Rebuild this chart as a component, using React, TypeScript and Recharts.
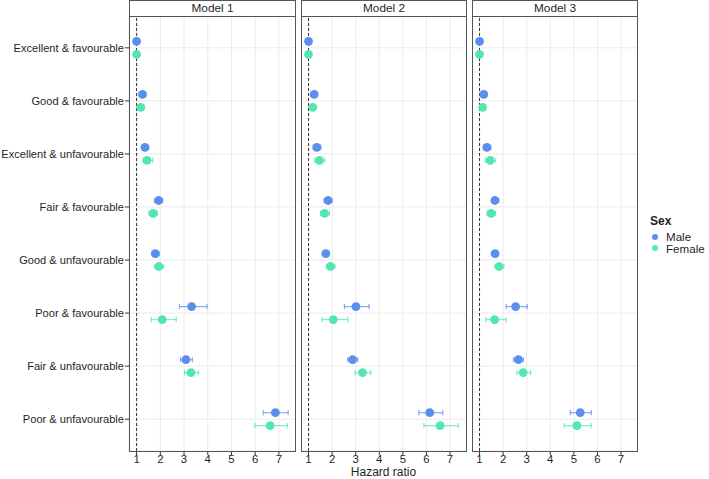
import { CartesianGrid, ErrorBar, ReferenceLine, Scatter, ScatterChart, XAxis, YAxis } from 'recharts';

const CATEGORIES = [
  'Excellent & favourable',
  'Good & favourable',
  'Excellent & unfavourable',
  'Fair & favourable',
  'Good & unfavourable',
  'Poor & favourable',
  'Fair & unfavourable',
  'Poor & unfavourable',
];
const MODELS = ['Model 1', 'Model 2', 'Model 3'];
const HR_TICKS = [1, 2, 3, 4, 5, 6, 7];

// [hazard ratio, lower CI, upper CI], one row per category
const MALE_M1 = [
  [1, 1, 1], [1.25, 1.18, 1.33], [1.35, 1.23, 1.51], [1.93, 1.76, 2.1],
  [1.79, 1.65, 1.94], [3.32, 2.81, 3.97], [3.08, 2.85, 3.35], [6.85, 6.34, 7.39],
];
const FEMALE_M1 = [
  [1, 1, 1], [1.18, 1.1, 1.26], [1.44, 1.27, 1.68], [1.7, 1.52, 1.88],
  [1.94, 1.76, 2.14], [2.08, 1.62, 2.67], [3.29, 3.02, 3.61], [6.63, 5.98, 7.36],
];
const MALE_M2 = [
  [1, 1, 1], [1.24, 1.17, 1.31], [1.35, 1.2, 1.52], [1.83, 1.66, 2.0],
  [1.73, 1.61, 1.87], [3.01, 2.52, 3.57], [2.87, 2.66, 3.09], [6.14, 5.68, 6.69],
];
const FEMALE_M2 = [
  [1, 1, 1], [1.18, 1.1, 1.26], [1.46, 1.27, 1.69], [1.68, 1.51, 1.89],
  [1.93, 1.76, 2.12], [2.05, 1.58, 2.66], [3.29, 2.98, 3.64], [6.58, 5.89, 7.35],
];
const MALE_M3 = [
  [1, 1, 1], [1.18, 1.11, 1.25], [1.31, 1.17, 1.48], [1.65, 1.51, 1.82],
  [1.66, 1.53, 1.8], [2.53, 2.13, 3.02], [2.65, 2.44, 2.86], [5.27, 4.85, 5.74],
];
const FEMALE_M3 = [
  [1, 1, 1], [1.13, 1.06, 1.21], [1.45, 1.24, 1.68], [1.49, 1.32, 1.68],
  [1.83, 1.65, 2.03], [1.64, 1.27, 2.13], [2.85, 2.58, 3.16], [5.13, 4.59, 5.74],
];

const MALE_COLOR = '#5B8FEF';
const FEMALE_COLOR = '#52E7B2';
const TEXT = '#1f1f1f';
const FONT = '"Liberation Sans", Arial, sans-serif';
const FS = 11.4;
const DODGE = 0.122;

const toRows = (est: number[][], offset: number) =>
  est.map(([hr, lo, hi], i) => ({ y: i + offset, hr, err: [hr - lo, hi - hr] }));

const dot = (color: string) => (p: any) => <circle cx={p.cx} cy={p.cy} r={4.4} fill={color} />;

// plain <text> so long labels never wrap
const CategoryTick = (p: any) => (
  <text x={p.x} y={p.y} textAnchor="end" dominantBaseline="central" fontSize={11.1} fontFamily={FONT} fill={TEXT}>
    {CATEGORIES[p.payload.value]}
  </text>
);

interface PanelProps {
  left: number;
  plotWidth: number;
  showY: boolean;
  title: string;
  male: number[][];
  female: number[][];
}

function Panel({ left, plotWidth, showY, title, male, female }: PanelProps) {
  const yw = showY ? 129 : 0;
  return (
    <>
      <div style={{ position: 'absolute', left: left - yw, top: 0 }}>
        <ScatterChart width={plotWidth + yw} height={479} margin={{ top: 16, right: 0, bottom: 0, left: 0 }}>
          <CartesianGrid stroke="#EBEBEB" strokeWidth={1} />
          <XAxis
            type="number"
            dataKey="hr"
            domain={[0.68, 7.72]}
            ticks={HR_TICKS}
            allowDataOverflow
            height={28}
            axisLine={false}
            tickLine={{ stroke: '#333' }}
            tickSize={4}
            tickMargin={0}
            tick={{ fill: TEXT, fontSize: FS, fontFamily: FONT }}
          />
          <YAxis
            type="number"
            dataKey="y"
            reversed
            hide={!showY}
            domain={[-0.6, 7.6]}
            ticks={CATEGORIES.map((_, i) => i)}
            allowDataOverflow
            width={yw}
            axisLine={false}
            tickLine={{ stroke: '#333' }}
            tickSize={4}
            tickMargin={1}
            tick={CategoryTick}
          />
          <ReferenceLine x={1} stroke="#333" strokeDasharray="3 2" strokeWidth={1} />
          <Scatter data={toRows(male, -DODGE)} shape={dot(MALE_COLOR)} isAnimationActive={false}>
            <ErrorBar dataKey="err" direction="x" width={2.6} stroke={MALE_COLOR} strokeOpacity={0.75} strokeWidth={1.2} />
          </Scatter>
          <Scatter data={toRows(female, DODGE)} shape={dot(FEMALE_COLOR)} isAnimationActive={false}>
            <ErrorBar dataKey="err" direction="x" width={2.6} stroke={FEMALE_COLOR} strokeOpacity={0.75} strokeWidth={1.2} />
          </Scatter>
        </ScatterChart>
      </div>
      <div
        style={{
          position: 'absolute', left, top: 0, width: plotWidth, height: 17, boxSizing: 'border-box',
          border: '1px solid #555', background: '#fff', textAlign: 'center', fontSize: 11.8,
          lineHeight: '15px', color: TEXT,
        }}
      >
        {title}
      </div>
      <div
        style={{
          position: 'absolute', left, top: 16, width: plotWidth, height: 436, boxSizing: 'border-box',
          border: '1px solid #555', pointerEvents: 'none',
        }}
      />
    </>
  );
}

export default function App() {
  const panels = [
    { left: 129, plotWidth: 167, male: MALE_M1, female: FEMALE_M1 },
    { left: 301, plotWidth: 166, male: MALE_M2, female: FEMALE_M2 },
    { left: 472, plotWidth: 166, male: MALE_M3, female: FEMALE_M3 },
  ];
  return (
    <div style={{ position: 'absolute', left: 0, top: 0, width: 709, height: 479, background: '#fff', fontFamily: FONT }}>
      {panels.map((p, i) => (
        <Panel key={MODELS[i]} title={MODELS[i]} showY={i === 0} {...p} />
      ))}
      <div
        style={{
          position: 'absolute', left: 129, width: 509, top: 466, textAlign: 'center', fontSize: 12,
          lineHeight: '12px', color: TEXT,
        }}
      >
        Hazard ratio
      </div>
      <div style={{ position: 'absolute', left: 650, top: 214, fontSize: 12, color: TEXT }}>
        <div style={{ fontWeight: 'bold', marginBottom: 3 }}>Sex</div>
        {[
          ['Male', MALE_COLOR],
          ['Female', FEMALE_COLOR],
        ].map(([label, color]) => (
          <div key={label} style={{ display: 'flex', alignItems: 'center', height: 11.5, fontSize: 11.6 }}>
            <svg width={12} height={10} style={{ marginRight: 4 }}>
              <circle cx={5} cy={5} r={3} fill={color} />
            </svg>
            {label}
          </div>
        ))}
      </div>
    </div>
  );
}
